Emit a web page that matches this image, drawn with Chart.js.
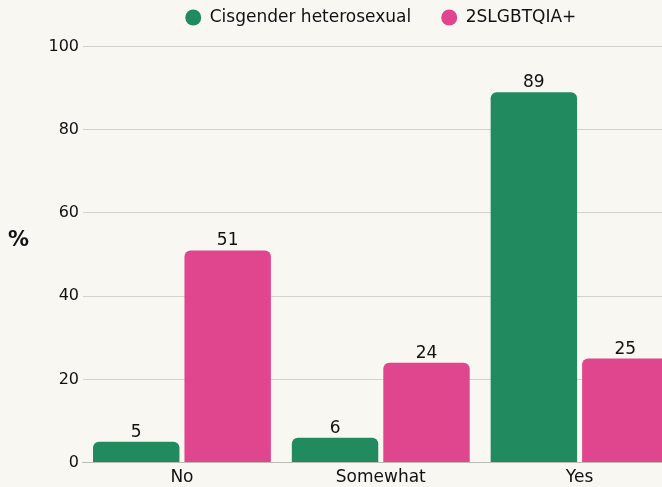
<!DOCTYPE html>
<html>
<head>
<meta charset="utf-8">
<script src="https://cdn.jsdelivr.net/npm/chart.js@4/dist/chart.umd.min.js"></script>
<style>
  html, body { margin: 0; padding: 0; background: #f9f7f2; overflow: hidden; }
  #wrap { position: relative; width: 680px; height: 487px; }
  #y-title { position: absolute; left: 8px; top: 227px; font: 700 21px "DejaVu Sans", sans-serif; color: #111; line-height: 1.15; }
</style>
</head>
<body>
<div id="wrap">
  <canvas id="chart" width="680" height="487"></canvas>
  <span id="y-title">%</span>
</div>
<script>
'use strict';

const categories = ['No', 'Somewhat', 'Yes'];
const cisValues = [5, 6, 89];
const lgbtValues = [51, 24, 25];
const yTicks = [0, 20, 40, 60, 80, 100];

const FONT = '"DejaVu Sans", sans-serif';

// values drawn above each bar, from the bar elements themselves
const barValueLabels = {
  id: 'barValueLabels',
  afterDatasetsDraw(chart) {
    const ctx = chart.ctx;
    ctx.save();
    ctx.font = `17px ${FONT}`;
    ctx.fillStyle = '#111';
    ctx.textAlign = 'center';
    ctx.textBaseline = 'alphabetic';
    chart.data.datasets.forEach((ds, i) => {
      chart.getDatasetMeta(i).data.forEach((bar, j) => {
        ctx.fillText(String(ds.data[j]), bar.x, bar.y - 5);
      });
    });
    ctx.restore();
  },
};

// a bit more room between legend and plot
const legendSpacer = {
  id: 'legendSpacer',
  beforeInit(chart) {
    const fit = chart.legend.fit;
    chart.legend.fit = function () {
      fit.call(chart.legend);
      this.height += 10.5;
    };
  },
};

new Chart(document.getElementById('chart').getContext('2d'), {
  type: 'bar',
  data: {
    labels: categories,
    datasets: [
      {
        label: 'Cisgender heterosexual',
        data: cisValues,
        backgroundColor: '#218a5f',
        borderRadius: 6,
        borderSkipped: 'start',
      },
      {
        label: '2SLGBTQIA+',
        data: lgbtValues,
        backgroundColor: '#e0468e',
        borderRadius: 6,
        borderSkipped: 'start',
      },
    ],
  },
  options: {
    responsive: false,
    animation: false,
    layout: { padding: { left: 45, right: 1, top: -21, bottom: -6 } },
    datasets: { bar: { categoryPercentage: 0.92, barPercentage: 0.945 } },
    plugins: {
      legend: {
        position: 'top',
        fullSize: false,
        labels: {
          usePointStyle: true,
          pointStyle: 'circle',
          boxWidth: 16,
          boxHeight: 11.3,
          padding: 30,
          color: '#111',
          font: { family: FONT, size: 17 },
        },
      },
      tooltip: { enabled: false },
    },
    scales: {
      x: {
        grid: { display: false, drawTicks: false },
        border: { display: true, color: '#bdbbb6' },
        ticks: { color: '#111', padding: 5, font: { family: FONT, size: 17 } },
      },
      y: {
        min: 0,
        max: 100,
        afterBuildTicks(scale) {
          scale.ticks = yTicks.map((v) => ({ value: v }));
        },
        grid: { color: '#d3d1cc', drawTicks: false },
        border: { display: false },
        ticks: { color: '#111', padding: 3.5, font: { family: FONT, size: 16 } },
      },
    },
  },
  plugins: [barValueLabels, legendSpacer],
});
</script>
</body>
</html>
